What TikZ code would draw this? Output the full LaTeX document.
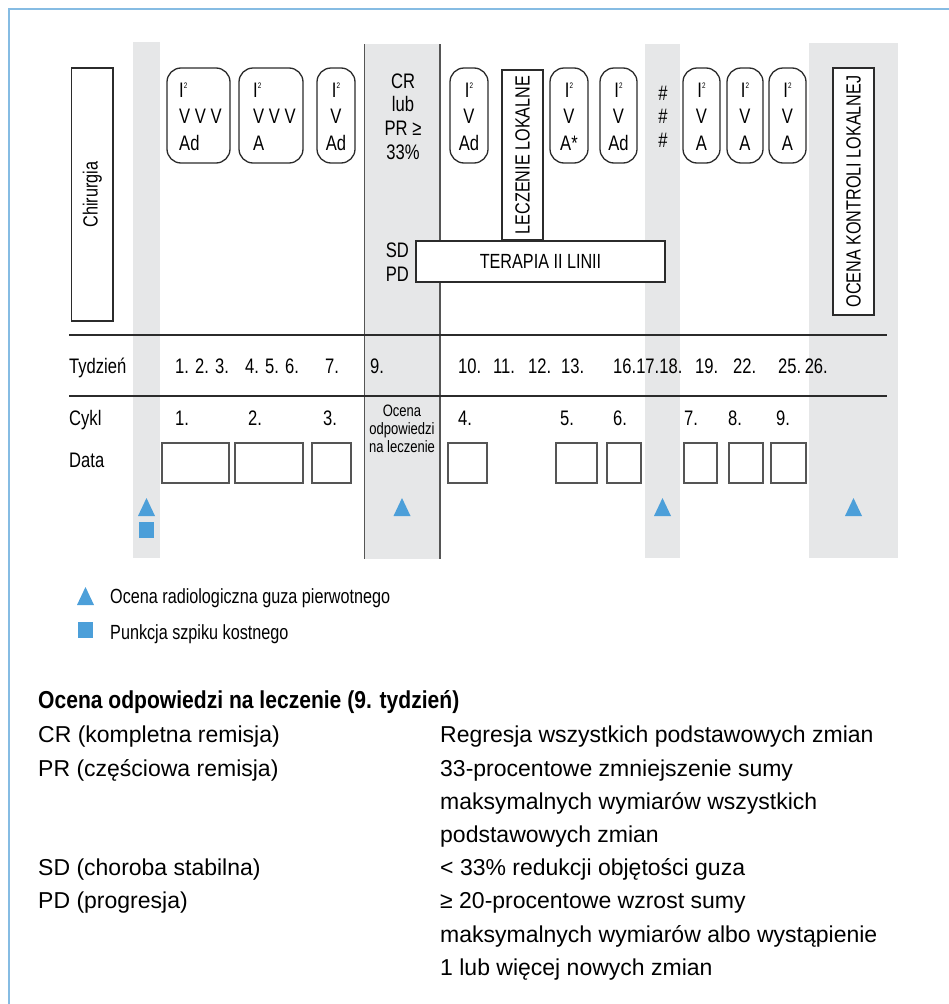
\documentclass[tikz,border=0pt]{standalone}
\usepackage{fontspec}
\setmainfont{Liberation Sans}
\newfontfamily\cond[FakeStretch=0.79]{Liberation Sans}
\newfontfamily\condh[FakeStretch=0.86]{Liberation Sans}
\definecolor{bandgrey}{HTML}{E6E7E8}
\definecolor{frameblue}{HTML}{86BCE3}
\definecolor{markblue}{HTML}{4C9FD9}
\definecolor{ink}{HTML}{2B2B2B}
\definecolor{edge}{HTML}{555555}
\newcommand\Isq{I\raisebox{8.5pt}{\fontsize{8}{8}\selectfont 2}}
\tikzset{
  x=1pt, y=-1pt,
  bandfill/.style={fill=bandgrey, draw=none},
  rbox/.style={draw=ink, line width=1.3pt, rounded corners=14pt, fill=white, inner sep=0pt},
  sbox/.style={draw=ink, line width=1.3pt, fill=white, inner sep=0pt},
  dbox/.style={draw=edge, line width=1.2pt, fill=white, inner sep=0pt},
  lbl/.style={font=\cond\fontsize{21}{21}\selectfont, inner sep=0pt, anchor=base west},
  clbl/.style={font=\cond\fontsize{21}{21}\selectfont, inner sep=0pt, anchor=base},
  rlbl/.style={font=\cond\fontsize{21}{21}\selectfont, inner sep=0pt, anchor=base east},
  vlbl/.style={font=\cond\fontsize{20.5}{20.5}\selectfont, inner sep=0pt, rotate=90},
  small/.style={font=\cond\fontsize{16.5}{16.5}\selectfont, inner sep=0pt, anchor=base},
  legtx/.style={font=\cond\fontsize{20.5}{20.5}\selectfont, inner sep=0pt, anchor=base west},
  body/.style={font=\fontsize{23}{23}\selectfont, inner sep=0pt, anchor=base west},
  head/.style={font=\condh\bfseries\fontsize{24.5}{24.5}\selectfont, inner sep=0pt, anchor=base west},
  tri/.pic={\fill[markblue] (-8.5,9) -- (0,-9) -- (8.5,9) -- cycle;},
}
\begin{document}
\begin{tikzpicture}
\useasboundingbox (0,0) rectangle (949,1004);
% frame
\draw[frameblue, line width=2pt] (9,1004) -- (9,9) -- (949,9);
% grey bands
\fill[bandfill] (133,42) rectangle (160,558);
\fill[bandfill] (364.5,44) rectangle (440,559);
\fill[bandfill] (645,44) rectangle (680,558);
\fill[bandfill] (809,43) rectangle (898,558);
\draw[edge, line width=1.3pt] (364.5,44) -- (364.5,559);
\draw[edge, line width=1.3pt] (440,44) -- (440,559);
% horizontal rules
\draw[ink, line width=1.5pt] (69,335) -- (887,335);
\draw[ink, line width=1.5pt] (69,396) -- (887,396);
% Chirurgia
\node[sbox, minimum width=41.5pt, minimum height=253pt] (chir) at (92.25,194.5) {};
\node[vlbl] (chirt) at (chir.center) {Chirurgia};
% rounded boxes
\node[rbox, minimum width=63pt, minimum height=95pt] (r1) at (198.5,115.5) {};
\node[rbox, minimum width=64pt, minimum height=95pt] (r2) at (271,115.5) {};
\node[rbox, minimum width=38pt, minimum height=95pt] (r3) at (336,115.5) {};
\node[rbox, minimum width=38pt, minimum height=95pt] (r4) at (469,115.5) {};
\node[rbox, minimum width=38pt, minimum height=95pt] (r5) at (569,115.5) {};
\node[rbox, minimum width=37pt, minimum height=95pt] (r6) at (618.5,115.5) {};
\node[rbox, minimum width=37pt, minimum height=95pt] (r7) at (701.5,115.5) {};
\node[rbox, minimum width=36pt, minimum height=95pt] (r8) at (745,115.5) {};
\node[rbox, minimum width=37pt, minimum height=95pt] (r9) at (787.5,115.5) {};
% texts in rounded boxes
\node[lbl] (r1a) at (179,97) {\Isq};
\node[lbl] (r1b) at (179,123) {V V V};
\node[lbl] (r1c) at (179,150) {Ad};
\node[lbl] (r2a) at (253,97) {\Isq};
\node[lbl] (r2b) at (253,123) {V V V};
\node[lbl] (r2c) at (253,150) {A};
\foreach \n/\cx/\t in {3/336/Ad,4/469/Ad,5/569/A*,6/618.5/Ad,7/701.5/A,8/745/A,9/787.5/A}{
  \node[clbl] (r\n a) at (\cx,97) {\Isq};
  \node[clbl] (r\n b) at (\cx,123) {V};
  \node[clbl] (r\n c) at (\cx,150) {\t};
}
% CR lub PR
\node[clbl] (cr1) at (403,88) {CR};
\node[clbl] (cr2) at (403,111) {lub};
\node[clbl] (cr3) at (403,135) {PR ≥};
\node[clbl] (cr4) at (403,159) {33\%};
% hashes
\node[clbl] (h1) at (663,100) {\#};
\node[clbl] (h2) at (663,123) {\#};
\node[clbl] (h3) at (663,147) {\#};
% Leczenie lokalne
\node[sbox, minimum width=41pt, minimum height=170pt] (lecz) at (522.5,155) {};
\node[vlbl] (leczt) at (lecz.center) {LECZENIE LOKALNE};
% Terapia II linii
\node[sbox, minimum width=249pt, minimum height=41pt] (ter) at (540.5,261.5) {};
\node[font=\cond\fontsize{20.5}{20.5}\selectfont, inner sep=0pt] (tert) at (ter.center) {TERAPIA II LINII};
\node[rlbl] (sd) at (409,257) {SD};
\node[rlbl] (pd) at (409,281) {PD};
% Ocena kontroli lokalnej
\node[sbox, minimum width=41pt, minimum height=247pt] (okl) at (853.5,191.5) {};
\node[vlbl] (oklt) at (okl.center) {OCENA KONTROLI LOKALNEJ};
% Tydzien row
\node[lbl] (tyd) at (69,373) {Tydzień};
\foreach \i/\xx/\t in {a/175/{1. 2. 3.},b/245/{4. 5. 6.},c/325/{7.},d/370/{9.},e/458/{10.},f/493/{11.},g/528/{12.},h/561/{13.},i/613/{16.17.18.},j/695/{19.},k/733/{22.},l/778/{25.\,26.}}{
  \node[lbl] (w\i) at (\xx,373) {\t};
}
% Cykl row
\node[lbl] (cykl) at (69,425) {Cykl};
\foreach \i/\xx in {1/175,2/248,3/323,4/458,5/560,6/613,7/684,8/728,9/776}{
  \node[lbl] (c\i) at (\xx,425) {\i.};
}
\node[small] (oc1) at (402,416) {Ocena};
\node[small] (oc2) at (402,434) {odpowiedzi};
\node[small] (oc3) at (402,452) {na leczenie};
% Data row
\node[lbl] (data) at (69,467) {Data};
\foreach \i/\xa/\xb in {1/162/229,2/235/303,3/312/351,4/448/487,5/556/597,6/607/641,7/684/717,8/729/763,9/771/806}{
  \pgfmathsetmacro\cx{(\xa+\xb)/2}
  \pgfmathsetmacro\ww{\xb-\xa}
  \node[dbox, minimum width=\ww pt, minimum height=40pt] (d\i) at (\cx,463) {};
}
% markers
\pic at (146.5,507) {tri};
\pic at (402,507) {tri};
\pic at (662.5,507) {tri};
\pic at (853.5,507) {tri};
\fill[markblue] (139,522) rectangle (154,538);
% legend
\pic at (85.5,596) {tri};
\fill[markblue] (78,622) rectangle (93,638);
\node[legtx] (leg1) at (110,603) {Ocena radiologiczna guza pierwotnego};
\node[legtx] (leg2) at (110,639) {Punkcja szpiku kostnego};
% bottom table
\node[head] (hd) at (38,708) {Ocena odpowiedzi na leczenie (9. tydzień)};
\node[body] (l1) at (38,742) {CR (kompletna remisja)};
\node[body] (l2) at (38,776) {PR (częściowa remisja)};
\node[body] (l3) at (38,875) {SD (choroba stabilna)};
\node[body] (l4) at (38,908) {PD (progresja)};
\node[body] (p1) at (440,742) {Regresja wszystkich podstawowych zmian};
\node[body] (p2) at (440,776) {33-procentowe zmniejszenie sumy};
\node[body] (p3) at (440,809) {maksymalnych wymiarów wszystkich};
\node[body] (p4) at (440,842) {podstawowych zmian};
\node[body] (p5) at (440,875) {< 33\% redukcji objętości guza};
\node[body] (p6) at (440,908) {≥ 20-procentowe wzrost sumy};
\node[body] (p7) at (440,942) {maksymalnych wymiarów albo wystąpienie};
\node[body] (p8) at (440,975) {1 lub więcej nowych zmian};
\end{tikzpicture}
\end{document}
